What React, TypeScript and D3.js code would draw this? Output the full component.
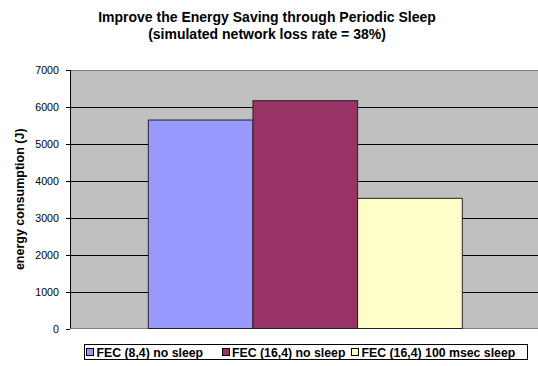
import React from "react";
import * as d3 from "d3";

const categories = ["FEC (8,4) no sleep", "FEC (16,4) no sleep", "FEC (16,4) 100 msec sleep"];
const values = [5645, 6170, 3525];
const colors = ["#9999FF", "#993366", "#FFFFCC"];
const yTicks = [0, 1000, 2000, 3000, 4000, 5000, 6000, 7000];

export default function App() {
  const W = 538, H = 366;
  const left = 70, right = 538, top = 70, bottom = 328.5;
  const y = d3.scaleLinear().domain([0, 7000]).range([bottom, top]);
  const x = d3.scaleBand().domain(categories).range([148.3, 462.3]).paddingInner(0).paddingOuter(0);
  const font = "'Liberation Sans', Arial, sans-serif";
  const legendItems = [
    { x: 86, tx: 96.5 },
    { x: 222, tx: 232 },
    { x: 351, tx: 361.5 },
  ];
  return (
    <svg width={W} height={H} style={{ position: "absolute", left: 0, top: 0 }} fontFamily={font}>
      <rect x={0} y={0} width={W} height={H} fill="#fff" />
      <text x={267} y={22} textAnchor="middle" fontSize={14} fontWeight="bold">Improve the Energy Saving through Periodic Sleep</text>
      <text x={267} y={39} textAnchor="middle" fontSize={14} fontWeight="bold">(simulated network loss rate = 38%)</text>
      <rect x={left} y={top} width={right - left} height={bottom - top} fill="#C0C0C0" />
      <line x1={left} x2={right} y1={top + 0.5} y2={top + 0.5} stroke="#808080" />
      {yTicks.filter(t => t > 0 && t < 7000).map(t => (
        <line key={t} x1={left} x2={right} y1={Math.round(y(t)) + 0.5} y2={Math.round(y(t)) + 0.5} stroke="#000" />
      ))}
      <line x1={left} x2={right} y1={bottom} y2={bottom} stroke="#808080" />
      {categories.map((c, i) => (
        <rect key={c} x={x(c)} y={y(values[i])} width={x.bandwidth()} height={bottom - y(values[i])}
          fill={colors[i]} stroke="#222" strokeWidth={1} />
      ))}
      <line x1={left + 0.5} x2={left + 0.5} y1={top} y2={bottom} stroke="#000" />
      {yTicks.map(t => (
        <g key={t}>
          <line x1={left - 4} x2={left} y1={Math.round(y(t)) + 0.5} y2={Math.round(y(t)) + 0.5} stroke="#000" />
          <text x={59} y={y(t) + 4} textAnchor="end" fontSize={10.7}>{t}</text>
        </g>
      ))}
      <text transform={`translate(24,${(top + bottom) / 2}) rotate(-90)`} textAnchor="middle" fontSize={12.5} fontWeight="bold">energy consumption (J)</text>
      <rect x={84.5} y={344.5} width={443} height={15} fill="#fff" stroke="#000" />
      {categories.map((c, i) => (
        <g key={c}>
          <rect x={legendItems[i].x + 0.5} y={348.5} width={7} height={7} fill={colors[i]} stroke="#000" />
          <text x={legendItems[i].tx} y={356.5} fontSize={12.3} fontWeight="bold">{c}</text>
        </g>
      ))}
    </svg>
  );
}
